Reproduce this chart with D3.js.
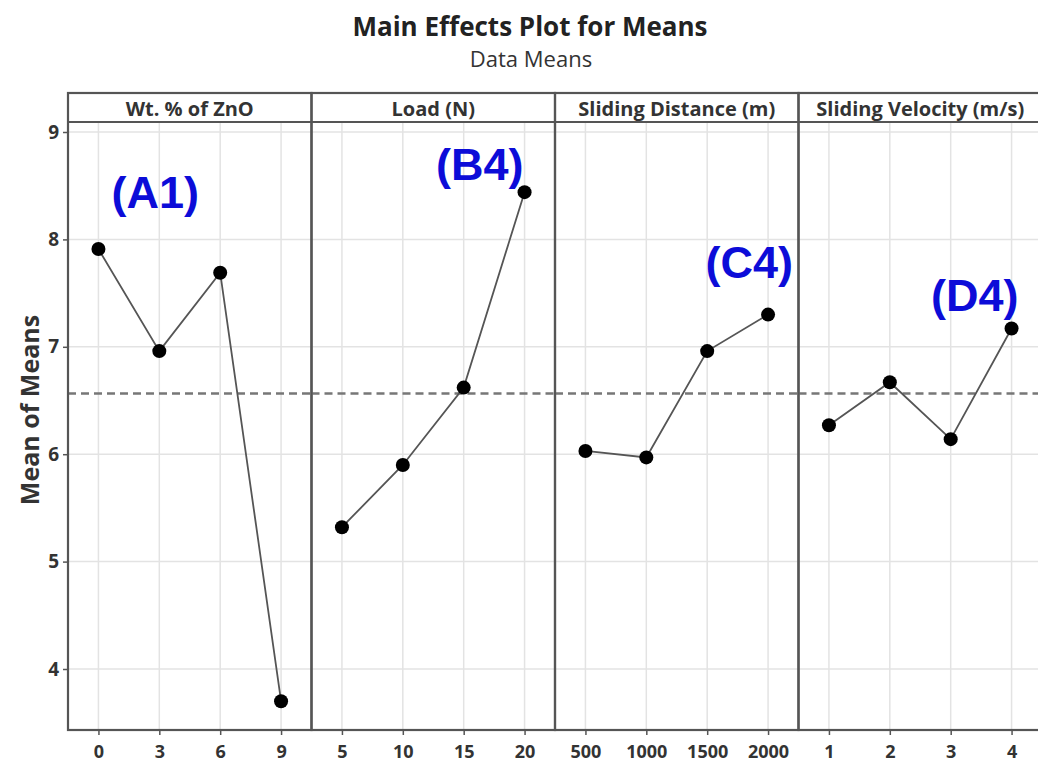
<!DOCTYPE html>
<html>
<head>
<meta charset="utf-8">
<script src="https://cdn.jsdelivr.net/npm/d3@7/dist/d3.min.js"></script>
<style>
  body { margin: 0; background: #fff; }
  svg { display: block; font-family: "Open Sans", "Noto Sans", sans-serif; }
</style>
</head>
<body>
<div id="chart"></div>
<script>
// factor names (panel headers)
const factors = ['Wt. % of ZnO', 'Load (N)', 'Sliding Distance (m)', 'Sliding Velocity (m/s)'];

// levels and means
const znoLevels = ['0', '3', '6', '9'];
const znoMeans = [7.91, 6.96, 7.69, 3.70];
const loadLevels = ['5', '10', '15', '20'];
const loadMeans = [5.32, 5.90, 6.62, 8.44];
const distLevels = ['500', '1000', '1500', '2000'];
const distMeans = [6.03, 5.97, 6.96, 7.30];
const velLevels = ['1', '2', '3', '4'];
const velMeans = [6.27, 6.67, 6.14, 7.17];

const yTicks = [4, 5, 6, 7, 8, 9];

// optimum level labels
const labels = ['(A1)', '(B4)', '(C4)', '(D4)'];
const labelLevel = [0, 3, 3, 3];

const W = 1038, H = 765;
const frameLeft = 68, frameTop = 93, headerH = 29, frameBottom = 730;
const panelW = 243.5;

const levels = [znoLevels, loadLevels, distLevels, velLevels];
const means = [znoMeans, loadMeans, distMeans, velMeans];
const grand = d3.mean(means.flat());

const svg = d3.select('#chart').append('svg').attr('width', W).attr('height', H);

const y = d3.scaleLinear().domain([4, 9]).range([669, 132]);
const plotTop = frameTop + headerH;

// title
svg.append('text').attr('x', 530).attr('y', 36).attr('text-anchor', 'middle')
    .attr('font-size', 26).attr('font-weight', 'bold').attr('fill', '#222')
    .text('Main Effects Plot for Means');
svg.append('text').attr('x', 531).attr('y', 67).attr('text-anchor', 'middle')
    .attr('font-size', 22).attr('fill', '#333')
    .text('Data Means');

// y label
svg.append('text').attr('transform', 'translate(39,410) rotate(-90)')
    .attr('text-anchor', 'middle').attr('font-size', 25).attr('font-weight', 'bold').attr('fill', '#333')
    .text('Mean of Means');

// horizontal grid across all panels
const rightEdge = frameLeft + panelW * 4;
svg.append('g').selectAll('line').data(yTicks).enter().append('line')
    .attr('x1', frameLeft).attr('x2', rightEdge)
    .attr('y1', d => y(d)).attr('y2', d => y(d))
    .attr('stroke', '#e3e3e3').attr('stroke-width', 1.5);

// y axis
const yAxis = svg.append('g').attr('transform', 'translate(' + frameLeft + ',0)')
    .call(d3.axisLeft(y).tickValues(yTicks).tickFormat(d3.format('d')).tickSize(5).tickPadding(4));
yAxis.select('.domain').remove();
yAxis.selectAll('line').attr('stroke', '#555').attr('stroke-width', 1.5);
yAxis.selectAll('text').attr('font-size', 19).attr('font-weight', 'bold').attr('fill', '#333')
    .attr('font-family', '"Open Sans", sans-serif');

const line = d3.line();

factors.forEach((name, i) => {
    const x0 = frameLeft + panelW * i;
    const x = d3.scalePoint().domain(levels[i]).range([x0, x0 + panelW]).padding(0.5);
    const g = svg.append('g');

    // vertical grid
    g.selectAll('line.vg').data(levels[i]).enter().append('line')
        .attr('x1', d => x(d)).attr('x2', d => x(d))
        .attr('y1', plotTop).attr('y2', frameBottom)
        .attr('stroke', '#e3e3e3').attr('stroke-width', 1.5);

    // reference line (grand mean)
    g.append('line').attr('x1', x0).attr('x2', x0 + panelW)
        .attr('y1', y(grand)).attr('y2', y(grand))
        .attr('stroke', '#777').attr('stroke-width', 2.5).attr('stroke-dasharray', '8,5');

    // x axis
    const xAxis = g.append('g').attr('transform', 'translate(0,' + frameBottom + ')')
        .call(d3.axisBottom(x).tickSize(5).tickPadding(10));
    xAxis.select('.domain').remove();
    xAxis.selectAll('line').attr('stroke', '#555').attr('stroke-width', 1.5);
    xAxis.selectAll('text').attr('font-size', 18).attr('font-weight', 'bold').attr('fill', '#333')
        .attr('font-family', '"Open Sans", sans-serif');

    // series
    const pts = levels[i].map((lv, j) => [x(lv), y(means[i][j])]);
    g.append('path').attr('d', line(pts)).attr('fill', 'none')
        .attr('stroke', '#555').attr('stroke-width', 1.8);
    g.selectAll('circle').data(pts).enter().append('circle')
        .attr('cx', d => d[0]).attr('cy', d => d[1]).attr('r', 7).attr('fill', '#000');

    // panel frame and header
    g.append('rect').attr('x', x0).attr('y', frameTop).attr('width', panelW).attr('height', frameBottom - frameTop)
        .attr('fill', 'none').attr('stroke', '#555').attr('stroke-width', 2.2);
    g.append('line').attr('x1', x0).attr('x2', x0 + panelW).attr('y1', plotTop).attr('y2', plotTop)
        .attr('stroke', '#555').attr('stroke-width', 2.2);
    g.append('text').attr('x', x0 + panelW / 2).attr('y', frameTop + 23).attr('text-anchor', 'middle')
        .attr('font-size', 20).attr('font-weight', 'bold').attr('fill', '#333')
        .text(name);
});

// annotation labels, offset from their point
const labelOffsets = [[13, -41, 'start'], [-1, -12, 'end'], [25, -37, 'end'], [7, -18, 'end']];
labels.forEach((t, i) => {
    const x0 = frameLeft + panelW * i;
    const x = d3.scalePoint().domain(levels[i]).range([x0, x0 + panelW]).padding(0.5);
    const k = labelLevel[i];
    const o = labelOffsets[i];
    svg.append('text')
        .attr('x', x(levels[i][k]) + o[0]).attr('y', y(means[i][k]) + o[1])
        .attr('text-anchor', o[2])
        .attr('font-family', '"Liberation Sans", Arial, sans-serif')
        .attr('font-size', 45).attr('font-weight', 'bold').attr('fill', '#0c0cd8')
        .text(t);
});
</script>
</body>
</html>
